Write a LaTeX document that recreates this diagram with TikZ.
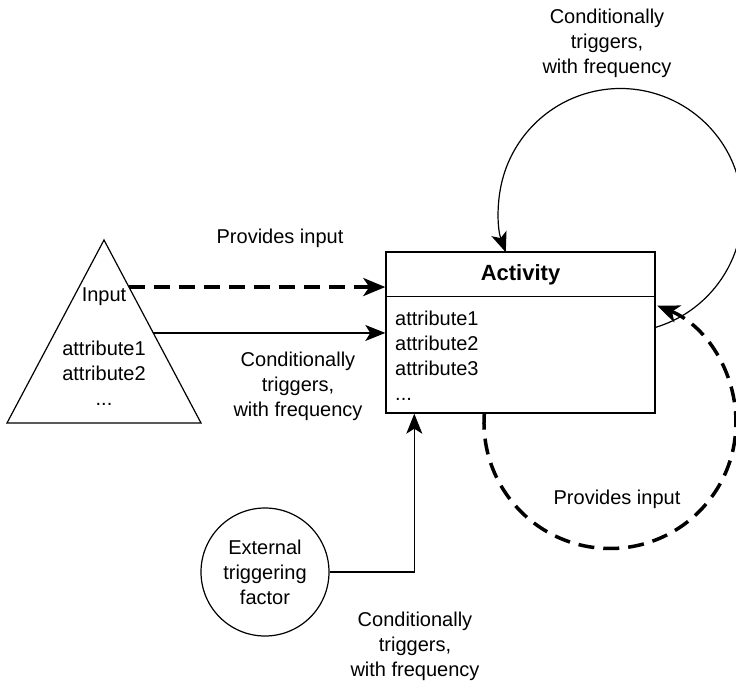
\documentclass[tikz,border=0pt]{standalone}
\usepackage{fontspec}
\setmainfont{Liberation Sans}
\usetikzlibrary{arrows.meta,calc}
\begin{document}
\begin{tikzpicture}[x=1pt,y=-1pt,
  lbl/.style={font=\fontsize{20}{25}\selectfont, align=center, inner sep=0pt},
  conn/.style={line width=1.2pt, -{Stealth[length=20pt,width=16pt,inset=5pt]}},
  feed/.style={line width=3.5pt, dash pattern=on 16pt off 9pt,
    -{Stealth[length=22pt,width=18pt,inset=6pt]}},
]
\useasboundingbox (0,0) rectangle (736,682);

% Activity class box with header separator
\node[draw, line width=1.4pt, minimum width=269pt, minimum height=161pt, inner sep=0pt]
  (act) at (520.5,332.5) {};
\draw[line width=1.4pt] ($(act.north west)+(0,45)$) -- ($(act.north east)+(0,45)$);
\node[lbl, font=\fontsize{22}{25}\selectfont\bfseries] (acttitle) at (520.5,275) {Activity};
\node[lbl, anchor=west, align=left] (actattrs) at (395,356)
  {attribute1\\attribute2\\attribute3\\...};

% Input triangle
\coordinate (tapex) at (104,240);
\coordinate (tbr) at (201,423);
\coordinate (tbl) at (7,423);
\draw[line width=1.2pt, line join=miter] (tapex) -- (tbr) -- (tbl) -- cycle;
\node[lbl] (inname) at (104,297) {Input};
\node[lbl] (inattrs) at (104,373) {attribute1\\attribute2\\...};

% External triggering factor
\node[draw, circle, line width=1.2pt, minimum size=128pt, lbl] (ext) at (265,572)
  {External\\triggering\\factor};

% Connectors from the input
\coordinate (din) at ($(tapex)!0.257!(tbr)$);
\coordinate (tin) at ($(tapex)!0.508!(tbr)$);
\draw[feed] (din) -- (din -| act.west);
\draw[conn] (tin) -- (tin -| act.west);
\node[lbl] (lprov) at (280,238) {Provides input};
\node[lbl] (ltrig) at (298,386) {Conditionally\\triggers,\\with frequency};

% Connector from the external factor
\coordinate (extin) at ($(act.south west)+(29,0)$);
\draw[conn] (ext.east) -| (extin);
\node[lbl] (lext) at (415,646) {Conditionally\\triggers,\\with frequency};

% Self-triggering loop
\coordinate (loopout) at ($(act.north east)+(0,76)$);
\draw[conn] (loopout) arc[start angle=-73.2, end angle=200, radius=122pt];
\node[lbl] (lself) at (607,43) {Conditionally\\triggers,\\with frequency};

% Self-input loop
\coordinate (loopin) at ($(act.south west)+(99,0)$);
\draw[feed] (loopin) arc[start angle=176, end angle=428, radius=126pt];
\node[lbl] (lselfin) at (617,499) {Provides input};
\end{tikzpicture}
\end{document}
